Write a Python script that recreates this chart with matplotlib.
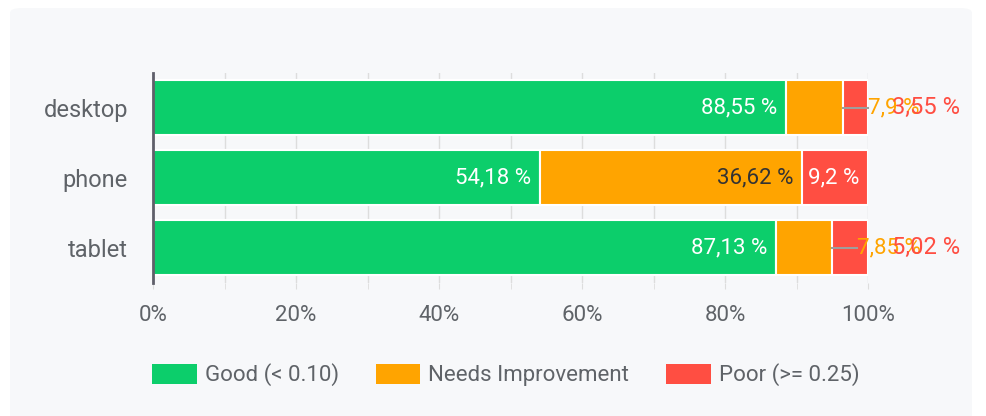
import numpy as np
import matplotlib.pyplot as plt
from matplotlib.patches import FancyBboxPatch, Patch

plt.rcParams['font.family'] = ['Roboto', 'DejaVu Sans']

# data
devices = ['desktop', 'phone', 'tablet']
good = [88.55, 54.18, 87.13]
needs = [7.9, 36.62, 7.85]
poor = [3.55, 9.2, 5.02]
series_names = ['Good (< 0.10)', 'Needs Improvement', 'Poor (>= 0.25)']
colors = ['#0cce6b', '#ffa400', '#ff4e42']
label_colors = ['white', '#333333', 'white']

W, H = 986, 416
fig = plt.figure(figsize=(W / 100, H / 100), dpi=100)
fig.patch.set_facecolor('white')

# rounded panel background
panel = FancyBboxPatch((10 / W, -0.1), 962 / W, (H - 8) / H + 0.1,
                       boxstyle='round,pad=0,rounding_size=0.012',
                       transform=fig.transFigure, facecolor='#f7f8fa',
                       edgecolor='none', zorder=-10)
fig.patches.append(panel)

ax = fig.add_axes([153 / W, 1 - 283 / H, (868 - 153) / W, (283 - 72.5) / H])
ax.set_facecolor('none')

y = np.arange(len(devices))
data = [good, needs, poor]
left = np.zeros(len(devices))
for vals, c in zip(data, colors):
    ax.barh(y, vals, left=left, height=0.786, color=c,
            edgecolor='white', linewidth=1.5, zorder=2)
    left += np.array(vals)

px = 100 / (868 - 153)  # data units per pixel

def fmt(v):
    return f'{v:g}'.replace('.', ',') + ' %'

for i in range(len(devices)):
    start = 0
    for k, vals in enumerate(data):
        v = vals[i]
        end = start + v
        if v > 8.5:
            ax.text(end - 9 * px, i, fmt(v), ha='right', va='center',
                    color=label_colors[k], fontsize=16, zorder=4)
        elif k == 1:
            ax.plot([end, end + 25 * px], [i, i], color='#9e9e9e',
                    lw=1.5, zorder=3, clip_on=False)
            ax.text(end + 25 * px, i, fmt(v), ha='left', va='center',
                    color=colors[k], fontsize=16, zorder=4)
        else:
            ax.text(100 + 24 * px, i, fmt(v), ha='left', va='center',
                    color=colors[k], fontsize=17, zorder=4)
        start = end

ax.set_xlim(0, 100)
ax.set_ylim(len(devices) - 0.5, -0.5)
ax.set_yticks(y)
ax.set_yticklabels(devices)
ax.set_xticks(np.arange(0, 101, 20))
ax.set_xticklabels([f'{t}%' for t in range(0, 101, 20)])
ax.set_xticks(np.arange(0, 101, 10), minor=True)
ax.grid(axis='x', which='both', color='#dddddd', lw=1, zorder=1)
ax.set_axisbelow(True)

for s in ['top', 'right', 'bottom']:
    ax.spines[s].set_visible(False)
ax.spines['left'].set_color('#5f5f6a')
ax.spines['left'].set_linewidth(2)
ax.spines['left'].set_zorder(5)

ax.tick_params(axis='y', length=0, pad=18, labelsize=17, labelcolor='#5f6368')
ax.tick_params(axis='x', which='both', length=4, color='#dddddd',
               pad=12, labelsize=16, labelcolor='#5f6368')

handles = [Patch(facecolor=c, edgecolor='none') for c in colors]
fig.legend(handles, series_names, loc='center', bbox_to_anchor=(0.513, 1 - 375 / H),
           ncol=3, frameon=False, fontsize=16, labelcolor='#5f6368',
           handlelength=2.0, handleheight=1.0, handletextpad=0.36,
           columnspacing=1.67)

plt.savefig('out.png', dpi=100, facecolor='white')
